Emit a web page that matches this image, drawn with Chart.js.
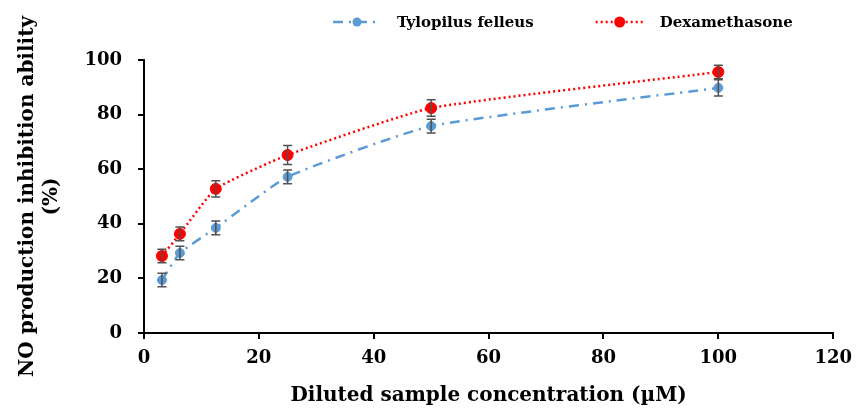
<!DOCTYPE html>
<html>
<head>
<meta charset="utf-8">
<script src="https://cdn.jsdelivr.net/npm/chart.js@4/dist/chart.umd.min.js"></script>
<style>
  html, body { margin: 0; padding: 0; background: #ffffff; }
  #wrap { width: 861px; height: 409px; }
</style>
</head>
<body>
<div id="wrap"><canvas id="c" width="861" height="409"></canvas></div>
<script>
const concentrations = [3.125, 6.25, 12.5, 25, 50, 100];
const tylopilusValues = [19.4, 29.3, 38.5, 57.2, 75.8, 89.8];
const tylopilusErrors = [2.5, 2.5, 2.5, 2.5, 2.5, 3.0];
const dexamethasoneValues = [28.2, 36.3, 52.8, 65.2, 82.4, 95.6];
const dexamethasoneErrors = [2.5, 2.5, 3.0, 3.5, 3.0, 2.5];
const seriesNames = ['Tylopilus felleus', 'Dexamethasone'];
const xTitle = 'Diluted sample concentration (\u00B5M)';
const yTitle = ['NO production inhibition ability', '(%)'];

const FONT = '"DejaVu Serif", "Liberation Serif", serif';
const BLUE = '#5B9BD5';
const RED = '#FF0000';

function pts(vals) { return concentrations.map((x, i) => ({ x: x, y: vals[i] })); }

const errorBars = {
  id: 'errorBars',
  afterDatasetsDraw(chart) {
    const ctx = chart.ctx;
    const xs = chart.scales.x, ys = chart.scales.y;
    const errs = [tylopilusErrors, dexamethasoneErrors];
    ctx.save();
    ctx.strokeStyle = '#505050';
    ctx.lineWidth = 1.5;
    chart.data.datasets.forEach((ds, di) => {
      ds.data.forEach((p, i) => {
        const e = errs[di][i];
        const px = xs.getPixelForValue(p.x);
        const top = ys.getPixelForValue(p.y + e);
        const bot = ys.getPixelForValue(p.y - e);
        ctx.beginPath();
        ctx.moveTo(px, top); ctx.lineTo(px, bot);
        ctx.moveTo(px - 4.5, top); ctx.lineTo(px + 4.5, top);
        ctx.moveTo(px - 4.5, bot); ctx.lineTo(px + 4.5, bot);
        ctx.stroke();
      });
    });
    ctx.restore();
  }
};

const customLegend = {
  id: 'customLegend',
  afterDraw(chart) {
    const ctx = chart.ctx;
    const y = 22;
    let x = 333;
    const lineW = 48, gapText = 16, gapItem = 62;
    ctx.save();
    ctx.font = 'bold 15px ' + FONT;
    ctx.textBaseline = 'middle';
    ctx.textAlign = 'left';
    chart.data.datasets.forEach((ds) => {
      ctx.save();
      ctx.strokeStyle = ds.borderColor;
      ctx.lineWidth = ds.borderWidth;
      ctx.setLineDash(ds.borderDash || []);
      ctx.beginPath();
      ctx.moveTo(x, y); ctx.lineTo(x + lineW, y);
      ctx.stroke();
      ctx.setLineDash([]);
      ctx.fillStyle = ds.pointBackgroundColor;
      ctx.beginPath();
      ctx.arc(x + lineW / 2, y, ds.pointRadius, 0, Math.PI * 2);
      ctx.fill();
      ctx.restore();
      x += lineW + gapText;
      ctx.fillStyle = '#000000';
      ctx.fillText(ds.label, x, y + 1);
      x += ctx.measureText(ds.label).width + gapItem;
    });
    ctx.restore();
  }
};

new Chart(document.getElementById('c'), {
  type: 'line',
  data: {
    datasets: [
      {
        label: seriesNames[0],
        data: pts(tylopilusValues),
        borderColor: BLUE,
        backgroundColor: BLUE,
        pointBackgroundColor: BLUE,
        pointBorderColor: BLUE,
        pointRadius: 4.5,
        pointBorderWidth: 1,
        borderWidth: 2.5,
        borderDash: [10, 6, 2, 6],
        tension: 0.15,
        fill: false
      },
      {
        label: seriesNames[1],
        data: pts(dexamethasoneValues),
        borderColor: RED,
        backgroundColor: RED,
        pointBackgroundColor: RED,
        pointBorderColor: RED,
        pointRadius: 5.5,
        pointBorderWidth: 1,
        borderWidth: 2.5,
        borderDash: [2, 3],
        tension: 0.15,
        fill: false
      }
    ]
  },
  options: {
    responsive: false,
    animation: false,
    devicePixelRatio: 1,
    layout: { padding: { top: 60, right: 21, bottom: 0, left: 0 } },
    plugins: {
      legend: { display: false },
      tooltip: { enabled: false }
    },
    scales: {
      x: {
        type: 'linear',
        min: 0, max: 120,
        ticks: { stepSize: 20, color: '#000', padding: 9, maxRotation: 0,
                 font: { family: FONT, size: 18, weight: 'bold' } },
        grid: { drawOnChartArea: false, drawTicks: true, tickLength: 6, color: '#000', lineWidth: 2 },
        border: { display: true, color: '#000', width: 2 },
        title: { display: true, text: xTitle, color: '#000', padding: { top: 0, bottom: 1 },
                 font: { family: FONT, size: 20, weight: 'bold', lineHeight: 1.2 } },
        afterFit(scale) { scale.height = 76; }
      },
      y: {
        min: 0, max: 100,
        ticks: { stepSize: 20, color: '#000', padding: 16,
                 font: { family: FONT, size: 18, weight: 'bold' } },
        grid: { drawOnChartArea: false, drawTicks: true, tickLength: 6, color: '#000', lineWidth: 2 },
        border: { display: true, color: '#000', width: 2 },
        title: { display: true, text: yTitle, color: '#000', padding: { top: 16, bottom: 0 },
                 font: { family: FONT, size: 20, weight: 'bold', lineHeight: 1.2 } },
        afterFit(scale) { scale.width = 144; }
      }
    }
  },
  plugins: [errorBars, customLegend]
});
</script>
</body>
</html>
